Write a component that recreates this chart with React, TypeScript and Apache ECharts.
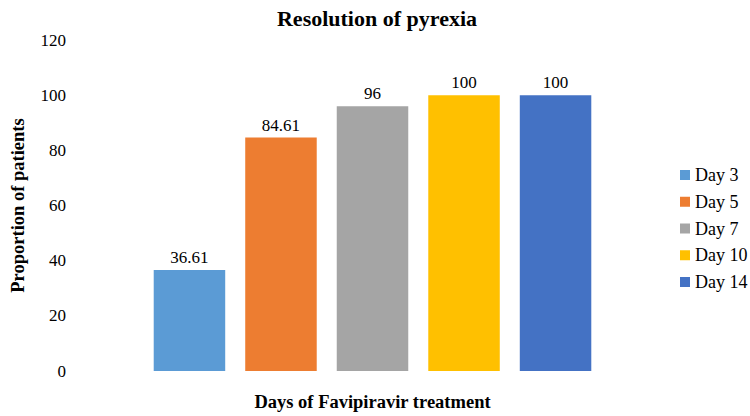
import React, { useEffect, useRef } from "react";
import * as echarts from "echarts";

const seriesNames = ["Day 3", "Day 5", "Day 7", "Day 10", "Day 14"];
const seriesValues = [36.61, 84.61, 96, 100, 100];
const colors = ["#5B9BD5", "#ED7D31", "#A5A5A5", "#FFC000", "#4472C4"];
const categories = [""];
const yTicks = { min: 0, max: 120, interval: 20 };

const FONT = "'Liberation Serif', 'Times New Roman', serif";

export default function App() {
  const ref = useRef<HTMLDivElement>(null);
  useEffect(() => {
    if (!ref.current) return;
    const chart = echarts.init(ref.current, null, { renderer: "svg" });
    chart.setOption({
      animation: false,
      textStyle: { fontFamily: FONT },
      title: {
        text: "Resolution of pyrexia",
        left: 372,
        top: 2,
        textAlign: "center",
        textStyle: { fontFamily: FONT, fontWeight: "bold", fontSize: 22, color: "#000" },
      },
      legend: {
        orient: "vertical",
        left: 680,
        top: 166,
        padding: 0,
        itemWidth: 10,
        itemHeight: 10,
        itemGap: 8.75,
        icon: "rect",
        textStyle: { fontFamily: FONT, fontSize: 18, color: "#000" },
        data: seriesNames,
      },
      grid: { left: 58, right: 79, top: 40, bottom: 40 },
      xAxis: {
        type: "category",
        data: categories,
        axisLine: { show: false },
        axisTick: { show: false },
        axisLabel: { show: false },
        name: "Days of Favipiravir treatment",
        nameLocation: "middle",
        nameGap: 21,
        nameTextStyle: { fontFamily: FONT, fontWeight: "bold", fontSize: 18.5, color: "#000" },
      },
      yAxis: {
        type: "value",
        min: yTicks.min,
        max: yTicks.max,
        interval: yTicks.interval,
        splitLine: { show: false },
        axisLine: { show: false },
        axisTick: { show: false },
        axisLabel: { fontFamily: FONT, fontSize: 17, color: "#000", margin: 8 },
        name: "Proportion of patients",
        nameLocation: "middle",
        nameGap: 47,
        nameTextStyle: { fontFamily: FONT, fontWeight: "bold", fontSize: 18.5, color: "#000" },
      },
      series: seriesNames.map((name, i) => ({
        type: "bar",
        name,
        data: [seriesValues[i]],
        barWidth: 71.5,
        barGap: "28%",
        itemStyle: { color: colors[i] },
        label: {
          show: true,
          position: "top",
          distance: 4,
          fontFamily: FONT,
          fontSize: 17,
          color: "#000",
        },
      })),
    });
    return () => chart.dispose();
  }, []);
  return (
    <div
      ref={ref}
      style={{ position: "absolute", left: 0, top: 0, width: 750, height: 416 }}
    />
  );
}
